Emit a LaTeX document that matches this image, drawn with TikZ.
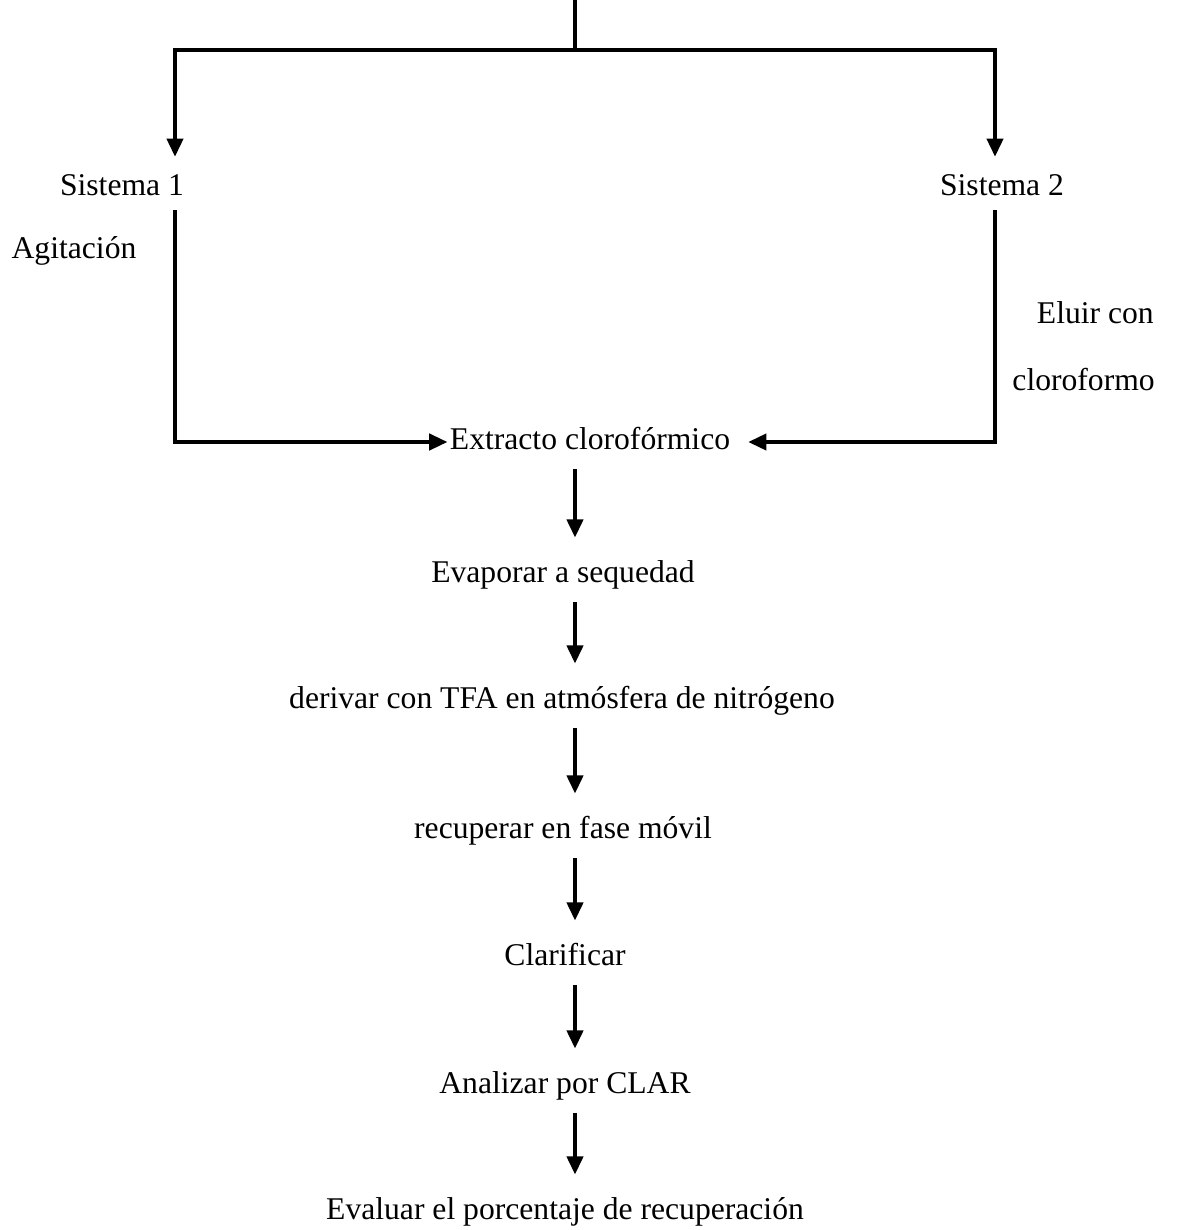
\documentclass[tikz,border=0pt]{standalone}
\usepackage{fontspec}
\setmainfont{Liberation Serif}
\usetikzlibrary{arrows.meta}
\begin{document}
\begin{tikzpicture}[x=0.02cm, y=-0.02cm, line width=2.6pt,
      every node/.append style={font=\fontsize{18}{22}\selectfont,inner sep=0pt,text height=13pt,text depth=4pt}]
    \tikzstyle{arr} = [-{Triangle[length=10.5pt,width=9pt]}]
    \tikzstyle{paso} = [arr,shorten <=0.2cm,shorten >=0.4cm]
    \useasboundingbox (0,0) rectangle (1189,1230);
    \coordinate (top) at (575,0);
    \coordinate (split) at (575,50);
    \coordinate (l1) at (175,157);
    \coordinate (r1) at (995,157);
    \coordinate (l2) at (175,210);
    \coordinate (r2) at (995,210);
    \coordinate (ext_r) at (748,442);
    \node (sis1) at (122,188) {Sistema 1};
    \node (sis2) at (1002,188) {Sistema 2};
    \node (agit) at (74,251) {Agitación};
    \node [anchor=east] (eluir) at (1156,316) {Eluir con};
    \node [anchor=east] (clorof) at (1157,383) {cloroformo};
    \node (extracto) at (590,442) {Extracto clorofórmico};
    \node (evap) at (563,575) {Evaporar a sequedad};
    \node (deriv) at (562,701) {derivar con TFA en atmósfera de nitrógeno};
    \node (recup) at (563,831) {recuperar en fase móvil};
    \node (clarif) at (565,958) {Clarificar};
    \node (analiz) at (565,1086) {Analizar por CLAR};
    \node (evaluar) at (565,1212) {Evaluar el porcentaje de recuperación};
    \draw (top) -- (split);
    \draw[arr] (split) -| (l1);
    \draw[arr] (split) -| (r1);
    \draw[arr] (l2) |- (extracto.west);
    \draw[arr] (r2) |- (ext_r);
    \foreach \a/\b in {extracto/evap, evap/deriv, deriv/recup, recup/clarif, clarif/analiz, analiz/evaluar}
      \draw[paso] (\a.south -| top) -- (\b.north -| top);
\end{tikzpicture}
\end{document}
